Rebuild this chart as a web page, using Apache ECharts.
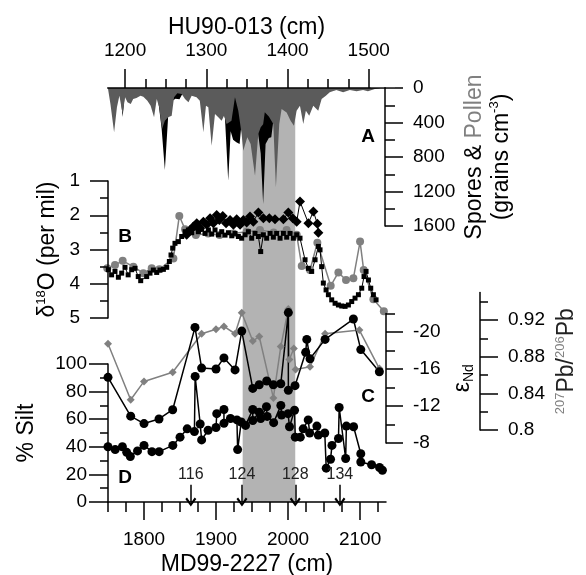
<!DOCTYPE html>
<html><head><meta charset="utf-8">
<script src="https://cdn.jsdelivr.net/npm/echarts@6/dist/echarts.min.js"></script>
<style>html,body{margin:0;padding:0;background:#fff}#c{width:586px;height:575px}</style>
</head><body><div id="c"></div>
<script>
// ---- tick values ----
const mdMajorTicks = [1800, 1900, 2000, 2100];
const mdMinorTicks = [1750, 1775, 1825, 1850, 1875, 1925, 1950, 1975, 2025, 2050, 2075, 2125];
const huLabels = [1200, 1300, 1400, 1500];
const ndMajorTicks = [-20, -16, -12, -8];
const ndMinorTicks = [-22, -18, -14, -10];
const pbMajorTicks = [0.8, 0.84, 0.88, 0.92];
const pbMinorTicks = [0.82, 0.86, 0.9, 0.94];

// ---- shaded interval (MD99-2227 cm) ----
const bandRange = [1937, 2010];

// ---- A: HU90-013 depth vs grains cm-3 ----
const pollenData = [[1179,10],[1182,186],[1186.5,514],[1190,224],[1193,89],[1197,300],[1200,108],[1203,166],[1207,186],[1210,128],[1214,116],[1219,89],[1222.5,101],[1227.5,147],[1231.5,205],[1235.7,340],[1239,128],[1242,224],[1245.5,476],[1249,379],[1253,340],[1257.4,321],[1260.3,108],[1264.4,62],[1269.7,70],[1273.8,128],[1278,166],[1282,89],[1288,108],[1292,147],[1296.4,514],[1299.6,205],[1302.5,224],[1306.6,669],[1310.7,302],[1314.8,340],[1318.9,379],[1321.8,321],[1325,418],[1331,379],[1335.3,108],[1339.4,263],[1343.5,534],[1345.5,727],[1350.5,572],[1354.6,650],[1360,1017],[1364,534],[1367,456],[1370,420],[1372,280],[1377,330],[1382.5,418],[1385.7,1152],[1389.8,418],[1392.7,244],[1398.9,283],[1403.8,379],[1407.9,437],[1411.2,263],[1415.3,205],[1419.4,418],[1422.6,263],[1426.7,321],[1431.7,205],[1437.8,263],[1442,128],[1447.2,89],[1452,50],[1460,23],[1468.5,50],[1476.7,23],[1485,39],[1493,23],[1499,39],[1507.5,12],[1515,5]];
const sporesData = [[1179,0],[1194,40],[1197,335],[1200,40],[1240,80],[1245,470],[1249,950],[1253,340],[1258,150],[1262,125],[1267,130],[1271,60],[1318,100],[1323,350],[1327,1075],[1330,500],[1333,600],[1337,630],[1341,650],[1343,450],[1362,400],[1367,760],[1370,1346],[1373,650],[1377,580],[1380,570],[1382,420],[1385,100],[1420,40],[1515,0]];

// ---- B: d18O (per mil) vs MD99-2227 depth ----
const d18oGray = [[1749,3.55],[1759.7,3.45],[1770.4,3.33],[1785.2,3.5],[1799,3.69],[1810.7,3.55],[1821.3,3.58],[1840.8,3.26],[1849,2.02],[1857,2.41],[1872,2.58],[1889,2.53],[1905,2.58],[1924,2.53],[1942.6,2.48],[1961,2.43],[1980,2.5],[1998,2.43],[2012,2.57],[2019,3.48],[2030.5,3.6],[2040.7,2.8],[2059.2,4.06],[2069.9,3.67],[2080.5,3.89],[2090.7,3.84],[2100,2.77],[2105,3.6],[2118.5,4.45],[2133,4.8]];
const d18oSquares = [[1750.5,3.59],[1755,3.74],[1759.7,3.64],[1764.4,3.81],[1769,3.69],[1773.6,3.52],[1778,3.74],[1782.9,3.59],[1787.5,3.55],[1792,3.79],[1795.4,3.91],[1803.7,3.79],[1808.3,3.69],[1813,3.6],[1817.6,3.67],[1822.2,3.6],[1826.9,3.58],[1831.5,3.52],[1835.2,3.35],[1837.5,3.16],[1839.8,2.96],[1843,2.82],[1847.7,2.77],[1852.3,2.62],[1857,2.48],[1861.6,2.43],[1866.2,2.51],[1870.9,2.38],[1875.5,2.48],[1880.1,2.41],[1884.7,2.53],[1889.4,2.43],[1894,2.55],[1898.6,2.43],[1903.3,2.57],[1907.9,2.48],[1912.5,2.58],[1917.2,2.51],[1921.8,2.6],[1926.4,2.53],[1931,2.62],[1935.6,2.67],[1940.3,2.57],[1944.9,2.48],[1949.5,2.67],[1954.1,2.53],[1958.8,2.62],[1962,3.06],[1965.7,2.57],[1970.3,2.67],[1975,2.53],[1979.6,2.64],[1984.2,2.53],[1988.9,2.67],[1993.5,2.53],[1998.1,2.64],[2002.8,2.53],[2007.4,2.67],[2012,2.57],[2016.6,2.67],[2023.6,3.3],[2028.2,3.55],[2032.8,3.64],[2037.5,3.3],[2042.1,2.91],[2044.4,3.01],[2046.7,3.5],[2049,3.98],[2052.8,4.18],[2056,4.32],[2060.6,4.47],[2065.3,4.57],[2069.9,4.62],[2074.5,4.65],[2079.2,4.66],[2083.8,4.62],[2088.4,4.52],[2093,4.42],[2097.7,4.32],[2102.3,4.13],[2105.5,3.79],[2108.3,3.64],[2111.6,3.89],[2114.8,4.13],[2118.5,4.32],[2122.2,4.47]];
const d18oDiamonds = [[1859.3,2.57],[1864,2.43],[1868.5,2.33],[1873.2,2.23],[1877.8,2.38],[1882.4,2.19],[1887,2.28],[1891.7,2.09],[1896.3,2.23],[1900.9,1.99],[1904.6,2.14],[1909.3,2.02],[1913.9,2.23],[1919.5,2.14],[1924.1,2.28],[1928.7,2.12],[1933.4,2.28],[1938,2.14],[1942.6,2.21],[1947.2,2.04],[1951.8,2.19],[1958.8,1.92],[1965.7,2.09],[1974,2.09],[1981.9,2.12],[1993.5,2.12],[2000.4,1.92],[2006.5,2.09],[2012,2.19],[2016.6,1.6],[2028.2,2.23],[2035.2,1.89],[2040.7,2.25],[2042.1,2.51]];

// ---- C: eNd and 207Pb/206Pb ----
const ndData = [[1750,-15.1],[1781.5,-10.9],[1800,-10.1],[1820.8,-10.6],[1839.8,-11.6],[1870.8,-20.5],[1880,-16.1],[1900,-16],[1911,-17.2],[1926.4,-15.9],[1935.7,-20.1],[1951,-13.9],[1960,-14.3],[1970.4,-14.7],[1979.6,-14.3],[1989.9,-14.4],[2000.4,-22.1],[2000.4,-13.7],[2009.7,-14.2],[2024.5,-17.8],[2026,-19.2],[2030.5,-17.1],[2051.4,-19.2],[2090.7,-21.4],[2101,-18.1],[2126.8,-15.7]];
const pbData = [[1750,0.894],[1781.5,0.833],[1800,0.853],[1839.8,0.863],[1880,0.905],[1900,0.91],[1911,0.913],[1926.4,0.905],[1935.7,0.928],[1951,0.897],[1960,0.902],[1979.6,0.835],[1989.9,0.891],[2000.4,0.932],[2001.8,0.877],[2008,0.889],[2010.5,0.866],[2030.5,0.869],[2051.4,0.905],[2099,0.909],[2126.8,0.867]];

// ---- D: % silt ----
const siltData = [[1750,40],[1760,38],[1770,40],[1776,36],[1781,33],[1791,37],[1800,41],[1811,36.5],[1821,36.5],[1840,41],[1850,47],[1860,53],[1870,51],[1871,91],[1878,56.5],[1880,45],[1889,52],[1900,54],[1901,64],[1911,67],[1911,57],[1920,60.5],[1929,59.5],[1930,38],[1935,58],[1941,55.5],[1951,67],[1951,59],[1960,65],[1962,60.5],[1970,69],[1971,62],[1980,57.5],[1990,70],[1991,63],[2000,64],[2002,54.5],[2009,66.5],[2010,47],[2017,47],[2021,53],[2028,59.5],[2030,50],[2040,55],[2042,48.5],[2051,50],[2053,24.5],[2059,31],[2061,41],[2070,46],[2071,68.5],[2080,31.5],[2081,55],[2091,54.5],[2101,35],[2101,29],[2116,27],[2127,25],[2131,23]];

// ---- arrows (MIS labels) ----
const arrowPos = [1865, 1936, 2010, 2072];
const arrowLabels = ['116', '124', '128', '134'];
const arrowTop = 12.5;

const FONT = 'Liberation Sans, Arial, sans-serif';
const BLACK = '#000';
const GRAY = '#808080';
const MD_MIN = 1750, MD_MAX = 2136;
// HU axis counted from 1100 so that ticks land on hundreds; the part left of the record is masked
const HU_AXIS_MIN = 1100, HU_MAX = 1520;
const HU_PX = 0.8123;                       // px per cm on the HU90-013 axis
const HU_LEFT = 108 - (1179 - HU_AXIS_MIN) * HU_PX;
const HU_WIDTH = (HU_MAX - HU_AXIS_MIN) * HU_PX;

const line = {show: true, onZero: false, lineStyle: {color: BLACK, width: 1.5}};
const noLine = {show: false, onZero: false};
function ticks(len, values, inside) {
  const t = {show: true, length: len, inside: !!inside, lineStyle: {color: BLACK, width: 1.5}};
  if (values) t.customValues = values;
  return t;
}
const plain = (v) => String(v);
const labelStyle = {color: BLACK, fontSize: 19, fontFamily: FONT, formatter: plain};
const nameStyle = {color: BLACK, fontSize: 23, fontFamily: FONT};
const hidden = {show: false};

function grid(left, top, width, height) {
  return {left, top, width, height, containLabel: false, outerBoundsMode: 'none', show: false};
}

const grids = [
  grid(108, 88, 278, 414),   // 0 band
  grid(HU_LEFT, 88, HU_WIDTH, 138),   // 1 A
  grid(108, 88, 277, 138),   // 2 unused
  grid(108, 181, 278, 137),  // 3 B
  grid(108, 313.5, 278, 129.5), // 4 C eNd
  grid(108, 313.5, 278, 129.5), // 5 C eNd minor
  grid(108, 292.5, 278, 137.5), // 6 C Pb
  grid(108, 292.5, 278, 137.5), // 7 C Pb minor
  grid(108, 364, 278, 138)   // 8 D
];

function mdHidden(gi) {
  return {type: 'value', gridIndex: gi, min: MD_MIN, max: MD_MAX, show: false, axisLine: noLine, splitLine: hidden};
}

const nameShift = 2 * (246.5 - (HU_LEFT + HU_WIDTH / 2));

const xAxes = [
  {type: 'value', gridIndex: 0, min: MD_MIN, max: MD_MAX, position: 'bottom', z: 3,
   axisLine: noLine, axisTick: ticks(10, mdMinorTicks), axisLabel: hidden, splitLine: hidden},
  {type: 'value', gridIndex: 1, min: HU_AXIS_MIN, max: HU_MAX, interval: 100, position: 'top', z: 3,
   axisLine: line, axisTick: ticks(19),
   minorTick: {show: true, splitNumber: 4, length: 9, lineStyle: {color: BLACK, width: 1.5}},
   axisLabel: Object.assign({customValues: huLabels, margin: 28}, labelStyle),
   splitLine: hidden, nameMoveOverlap: false,
   name: 'HU90-013 (cm)', nameLocation: 'middle', nameGap: 49,
   nameTextStyle: Object.assign({padding: [0, 0, 0, nameShift]}, nameStyle)},
  {type: 'value', gridIndex: 2, min: 0, max: 1, show: false, axisLine: noLine, splitLine: hidden},
  mdHidden(3), mdHidden(4), mdHidden(5), mdHidden(6), mdHidden(7),
  {type: 'value', gridIndex: 8, min: MD_MIN, max: MD_MAX, position: 'bottom', z: 3,
   axisLine: line, axisTick: ticks(18, mdMajorTicks),
   axisLabel: Object.assign({customValues: mdMajorTicks, margin: 28}, labelStyle),
   splitLine: hidden, nameMoveOverlap: false,
   name: 'MD99-2227 (cm)', nameLocation: 'middle', nameGap: 51, nameTextStyle: nameStyle}
];

const supStyle = {fontSize: 13, lineHeight: 13, verticalAlign: 'top', fontFamily: FONT};
const yAxes = [
  {type: 'value', gridIndex: 0, min: 0, max: 1, show: false, axisLine: noLine, splitLine: hidden},
  {type: 'value', gridIndex: 1, min: 0, max: 1600, interval: 400, inverse: true, position: 'right', z: 3,
   axisLine: line, axisTick: ticks(18),
   minorTick: {show: true, splitNumber: 2, length: 10, lineStyle: {color: BLACK, width: 1.5}},
   axisLabel: Object.assign({margin: 28}, labelStyle), splitLine: hidden, nameMoveOverlap: false,
   name: '{k|Spores & }{g|Pollen}\n{k|(grains cm}{s|-3}{k|)}', nameLocation: 'middle', nameRotate: 90, nameGap: 76,
   nameTextStyle: {rich: {
     k: {fontSize: 23, lineHeight: 27, color: BLACK, fontFamily: FONT},
     g: {fontSize: 23, lineHeight: 27, color: GRAY, fontFamily: FONT},
     s: Object.assign({color: BLACK}, supStyle)}}},
  {type: 'value', gridIndex: 2, min: 0, max: 1, show: false, axisLine: noLine, splitLine: hidden},
  {type: 'value', gridIndex: 3, min: 1, max: 5, interval: 1, inverse: true, position: 'left', z: 3,
   axisLine: line, axisTick: ticks(18),
   minorTick: {show: true, splitNumber: 2, length: 8, lineStyle: {color: BLACK, width: 1.5}},
   axisLabel: Object.assign({margin: 28}, labelStyle), splitLine: hidden, nameMoveOverlap: false,
   name: '{k|δ}{s|18}{k|O (per mil)}', nameLocation: 'middle', nameGap: 47,
   nameTextStyle: {rich: {
     k: {fontSize: 23, lineHeight: 26, color: BLACK, fontFamily: FONT},
     s: Object.assign({color: BLACK}, supStyle)}}},
  {type: 'value', gridIndex: 4, min: -22, max: -8, inverse: true, position: 'right', z: 3,
   axisLine: line, axisTick: ticks(17, ndMajorTicks),
   axisLabel: Object.assign({customValues: ndMajorTicks, margin: 27}, labelStyle), splitLine: hidden,
   nameMoveOverlap: false,
   name: '{k|ε}{b|Nd}', nameLocation: 'middle', nameRotate: 90, nameGap: 64,
   nameTextStyle: {rich: {
     k: {fontSize: 23, lineHeight: 26, color: BLACK, fontFamily: FONT},
     b: {fontSize: 14, lineHeight: 14, verticalAlign: 'bottom', color: BLACK, fontFamily: FONT}}}},
  {type: 'value', gridIndex: 5, min: -22, max: -8, inverse: true, position: 'right', z: 3,
   axisLine: noLine, axisTick: ticks(9, ndMinorTicks), axisLabel: hidden, splitLine: hidden},
  {type: 'value', gridIndex: 6, min: 0.8, max: 0.95, position: 'right', offset: 94, z: 3,
   axisLine: line, axisTick: ticks(18, pbMajorTicks),
   axisLabel: Object.assign({customValues: pbMajorTicks, margin: 28}, labelStyle), splitLine: hidden,
   nameMoveOverlap: false,
   name: '{g|207}{k|Pb/}{g|206}{k|Pb}', nameLocation: 'middle', nameRotate: 90, nameGap: 74,
   nameTextStyle: {rich: {
     k: {fontSize: 23, lineHeight: 26, color: '#222', fontFamily: FONT},
     g: Object.assign({color: GRAY}, supStyle)}}},
  {type: 'value', gridIndex: 7, min: 0.8, max: 0.95, position: 'right', offset: 94, z: 3,
   axisLine: noLine, axisTick: ticks(8, pbMinorTicks), axisLabel: hidden, splitLine: hidden},
  {type: 'value', gridIndex: 8, min: 0, max: 100, interval: 20, position: 'left', z: 3,
   axisLine: line, axisTick: ticks(19),
   minorTick: {show: true, splitNumber: 2, length: 8, lineStyle: {color: BLACK, width: 1.5}},
   axisLabel: Object.assign({margin: 21}, labelStyle), splitLine: hidden, nameMoveOverlap: false,
   name: '% Silt', nameLocation: 'middle', nameGap: 70, nameTextStyle: nameStyle}
];

const CHEVRON = 'path://M5,0L10,7L8.5,8.3L5,3.2L1.5,8.3L0,7Z';

function pts(color, symbol, size, width, xi, yi, data, z) {
  return {type: 'line', xAxisIndex: xi, yAxisIndex: yi, data, symbol, symbolSize: size,
    showSymbol: true, clip: false, z: z || 2,
    itemStyle: {color}, lineStyle: {color, width}, emphasis: {disabled: true}};
}
function carrier(xi, yi, data) {
  return {type: 'line', xAxisIndex: xi, yAxisIndex: yi, data, silent: true, symbol: 'none',
    showSymbol: false, lineStyle: {opacity: 0, width: 0}, z: 0};
}

const series = [
  {type: 'line', xAxisIndex: 0, yAxisIndex: 0, data: [], z: 1, silent: true,
   markArea: {silent: true, itemStyle: {color: '#b3b3b3'},
     data: [[{xAxis: bandRange[0]}, {xAxis: bandRange[1]}]]}},
  carrier(5, 5, ndData), carrier(7, 7, pbData),
  {type: 'line', xAxisIndex: 1, yAxisIndex: 1, data: sporesData, showSymbol: false, symbol: 'none', z: 2,
   lineStyle: {width: 0}, areaStyle: {color: '#000', opacity: 1}},
  {type: 'line', xAxisIndex: 1, yAxisIndex: 1, data: pollenData, showSymbol: false, symbol: 'none', z: 2,
   lineStyle: {width: 0}, areaStyle: {color: '#5b5b5b', opacity: 1}},
  pts(GRAY, 'circle', 8, 1.5, 3, 3, d18oGray),
  pts(BLACK, 'rect', 5, 1, 3, 3, d18oSquares),
  pts(BLACK, 'diamond', 10, 1, 3, 3, d18oDiamonds),
  pts(GRAY, 'diamond', 8, 1.5, 6, 6, pbData),
  pts(BLACK, 'circle', 9, 1.5, 4, 4, ndData),
  Object.assign(pts(BLACK, 'circle', 9, 1.5, 8, 8, siltData), {
    markLine: {silent: true, symbol: ['none', CHEVRON], symbolSize: [11, 9],
      lineStyle: {color: BLACK, width: 1.5, type: 'solid'},
      label: {show: true, position: 'start', formatter: '{b}', fontSize: 16, color: '#222', fontFamily: FONT, distance: 2},
      emphasis: {disabled: true},
      data: arrowPos.map((x, i) => [{coord: [x, arrowTop], name: arrowLabels[i]}, {coord: [x, 0]}])}
  })
];

function letter(t, x, y) {
  return {type: 'text', x, y, z: 10,
    style: {text: t, fontSize: 19, fontWeight: 'bold', fontFamily: FONT, fill: BLACK,
      textAlign: 'center', textVerticalAlign: 'middle', align: 'center', verticalAlign: 'middle'}};
}
// white masks hiding the HU axis outside the record (left of 1179 cm, right of 1500 cm)
function mask(x, y, w, h) {
  return {type: 'rect', z: 20, silent: true, shape: {x, y, width: w, height: h}, style: {fill: '#fff'}};
}

const chart = echarts.init(document.getElementById('c'), null, {renderer: 'canvas'});
chart.setOption({
  animation: false,
  backgroundColor: '#fff',
  textStyle: {fontFamily: FONT},
  grid: grids,
  xAxis: xAxes,
  yAxis: yAxes,
  series,
  graphic: [
    mask(20, 62, 87.2, 28),
    mask(371, 60, 24, 27.1),
    letter('A', 368, 137), letter('B', 125, 237), letter('C', 368, 397), letter('D', 125, 478)
  ]
});
</script></body></html>
